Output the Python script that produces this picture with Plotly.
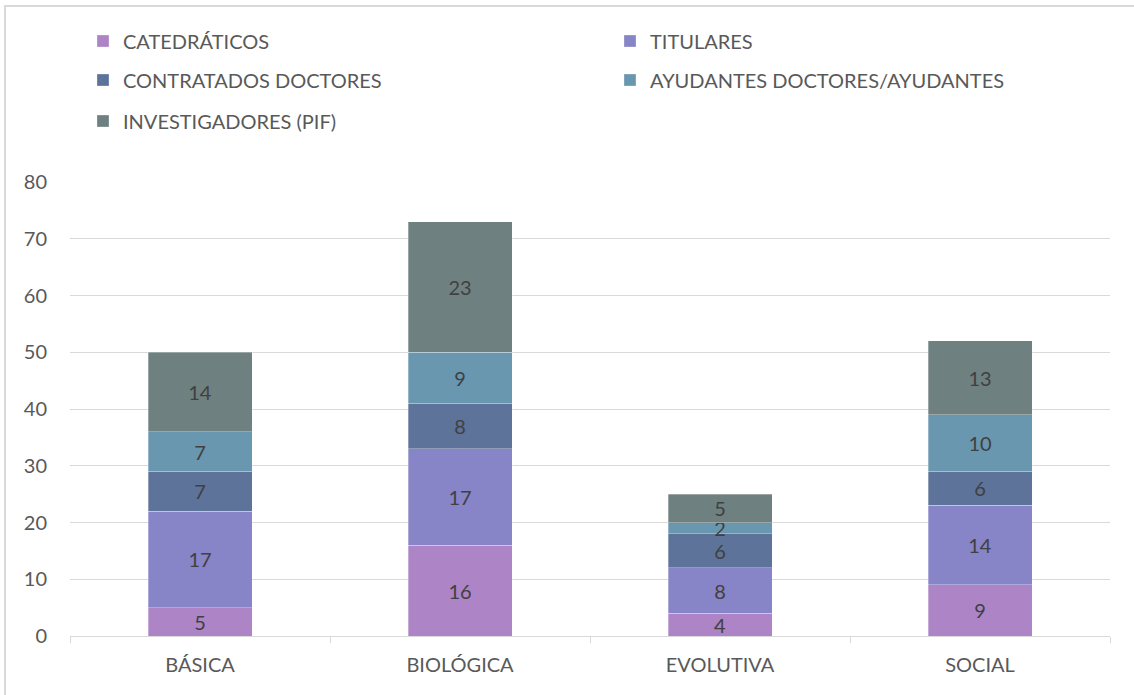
import plotly.graph_objects as go

categories = ["BÁSICA", "BIOLÓGICA", "EVOLUTIVA", "SOCIAL"]
series_names = ["CATEDRÁTICOS", "TITULARES", "CONTRATADOS DOCTORES",
                "AYUDANTES DOCTORES/AYUDANTES", "INVESTIGADORES (PIF)"]
catedraticos = [5, 16, 4, 9]
titulares = [17, 17, 8, 14]
contratados = [7, 8, 6, 6]
ayudantes = [7, 9, 2, 10]
investigadores = [14, 23, 5, 13]
y_ticks = [0, 10, 20, 30, 40, 50, 60, 70, 80]

values = [catedraticos, titulares, contratados, ayudantes, investigadores]
colors = ["#ad84c6", "#8784c7", "#5d739a", "#6997af", "#6f8080"]

FONT = "Lato"
FS = 20
W, H = 1134, 695
PL, PR, PT, PB = 70, 1110, 182, 636
# legend slot positions (text left edge x, row centre y) in pixels
leg_pos = [(123, 41), (650, 41), (123, 80), (650, 80), (123, 121)]
legend_ids = ["legend", "legend2", "legend3", "legend4", "legend5"]

fig = go.Figure()
for name, vals, col, lg in zip(series_names, values, colors, legend_ids):
    fig.add_trace(go.Bar(
        x=categories, y=vals, name=name, showlegend=True,
        marker=dict(color=col, line=dict(width=0.6, color="rgba(255,255,255,0.5)")),
        text=[str(v) for v in vals], textposition="inside", textangle=0,
        insidetextanchor="middle", constraintext="none",
        textfont=dict(family=FONT, size=FS, color="#404040"),
        legend=lg, hoverinfo="skip",
    ))

def leg(px, py):
    return dict(orientation="h", xref="container", yref="container",
                x=(px - 40) / W, xanchor="left", y=1 - py / H, yanchor="middle",
                font=dict(family=FONT, size=FS, color="#595959"),
                bgcolor="rgba(0,0,0,0)", itemwidth=30, visible=True)

legends = {lid: leg(px, py) for lid, (px, py) in zip(legend_ids, leg_pos)}

fig.update_layout(
    width=W, height=H, showlegend=True,
    barmode="stack", bargap=0.6,
    plot_bgcolor="white", paper_bgcolor="white",
    margin=dict(l=PL, r=W - PR, t=PT, b=H - PB, autoexpand=False),
    font=dict(family=FONT, size=FS, color="#595959"),
    **legends,
    xaxis=dict(showgrid=False, showline=True, linecolor="#d9d9d9", linewidth=1,
               ticks="outside", tickson="boundaries", ticklen=6, tickcolor="#d9d9d9",
               tickfont=dict(family=FONT, size=FS, color="#595959"), tickangle=0,
               ticklabelstandoff=11),
    yaxis=dict(range=[0, 80], tickvals=y_ticks, showgrid=True, gridcolor="#d9d9d9",
               gridwidth=1, zeroline=False, showline=False, ticks="",
               tickfont=dict(family=FONT, size=FS, color="#595959"), ticklabelstandoff=22),
    shapes=[dict(type="rect", xref="paper", yref="paper", layer="below",
                 x0=(5 - PL) / (PR - PL), x1=1.2, y0=-0.3, y1=(PB - 6) / (PB - PT),
                 line=dict(color="#d9d9d9", width=2), fillcolor="rgba(0,0,0,0)")],
)

fig.write_html("out.html", config={"displayModeBar": False},
               post_script="document.body.style.margin='0px';")
